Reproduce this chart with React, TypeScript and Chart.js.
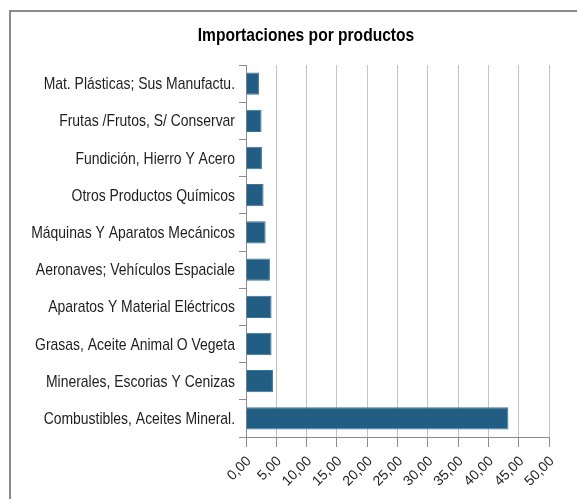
import React, { useEffect, useRef } from "react";
import { Chart, registerables } from "chart.js";

Chart.register(...registerables);

const categories = [
  "Mat. Plásticas; Sus Manufactu.",
  "Frutas /Frutos, S/ Conservar",
  "Fundición, Hierro Y Acero",
  "Otros Productos Químicos",
  "Máquinas Y Aparatos Mecánicos",
  "Aeronaves; Vehículos Espaciale",
  "Aparatos Y Material Eléctricos",
  "Grasas, Aceite Animal O Vegeta",
  "Minerales, Escorias Y Cenizas",
  "Combustibles, Aceites Mineral.",
];
const values = [2.14, 2.57, 2.63, 2.9, 3.24, 3.95, 4.22, 4.22, 4.45, 43.3];
const titleText = "Importaciones por productos";

const REG = "'Liberation Sans', Arial, sans-serif";
const NARROW_SCALE = 0.82;

// Draws the title and category labels in a condensed (Arial Narrow-like) face.
const narrowTextPlugin = {
  id: "narrowText",
  afterDraw(chart: any) {
    const ctx = chart.ctx as CanvasRenderingContext2D;
    const yScale = chart.scales.y;
    ctx.save();
    ctx.fillStyle = "#1e1e1e";
    ctx.font = `17px ${REG}`;
    ctx.textAlign = "right";
    ctx.textBaseline = "middle";
    const labels = chart.data.labels as string[];
    labels.forEach((lab, i) => {
      const y = yScale.getPixelForValue(i);
      ctx.save();
      ctx.translate(yScale.right - 11, y + 1);
      ctx.scale(NARROW_SCALE, 1);
      ctx.fillText(lab, 0, 0);
      ctx.restore();
    });
    // title
    ctx.fillStyle = "#000";
    ctx.font = `bold 19px ${REG}`;
    ctx.textAlign = "center";
    ctx.textBaseline = "alphabetic";
    ctx.save();
    ctx.translate(306, 41);
    ctx.scale(NARROW_SCALE, 1);
    ctx.fillText(titleText, 0, 0);
    ctx.restore();
    ctx.restore();
  },
};

export default function App() {
  const ref = useRef<HTMLCanvasElement | null>(null);
  useEffect(() => {
    if (!ref.current) return;
    const chart = new Chart(ref.current, {
      type: "bar",
      data: {
        labels: categories,
        datasets: [
          {
            data: values,
            backgroundColor: "#225e83",
            borderColor: "#3b7499",
            borderWidth: 1,
            barPercentage: 0.6,
            categoryPercentage: 1,
          },
        ],
      },
      plugins: [narrowTextPlugin],
      options: {
        indexAxis: "y",
        animation: false,
        responsive: false,
        layout: { padding: { left: 0, right: 28, top: 65, bottom: 0 } },
        plugins: {
          legend: { display: false },
          tooltip: { enabled: false },
          title: { display: false },
        },
        scales: {
          x: {
            min: 0,
            max: 50,
            ticks: {
              stepSize: 5,
              minRotation: 45,
              maxRotation: 45,
              color: "#222",
              font: { family: REG, size: 14 },
              padding: 6,
              labelOffset: 3,
              callback: (v: any) => Number(v).toFixed(2).replace(".", ","),
            },
            grid: { color: "#c4c4c4", tickLength: 10, tickColor: "#8c8c8c" },
            border: { color: "#8c8c8c", width: 1 },
            afterFit: (s: any) => {
              s.height = 62;
            },
          },
          y: {
            ticks: { display: false },
            grid: {
              offset: true,
              drawOnChartArea: false,
              tickLength: 7,
              tickColor: "#8c8c8c",
            },
            border: { color: "#8c8c8c", width: 1 },
            afterFit: (s: any) => {
              s.width = 246;
            },
          },
        },
      },
    });
    return () => chart.destroy();
  }, []);
  return (
    <div>
      <div
        style={{
          position: "fixed",
          left: 9,
          top: 10,
          width: 640,
          height: 560,
          border: "2px solid #8a8a8a",
          boxSizing: "border-box",
          background: "#fff",
        }}
      />
      <canvas
        ref={ref}
        width={577}
        height={499}
        style={{ position: "fixed", left: 0, top: 0, width: 577, height: 499 }}
      />
    </div>
  );
}
